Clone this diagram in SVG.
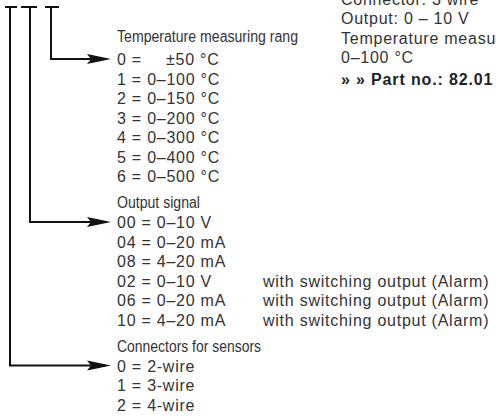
<svg xmlns="http://www.w3.org/2000/svg" width="496" height="420" viewBox="0 0 496 420">
<defs>
<style>
text{font-family:"Liberation Sans",Arial,sans-serif;font-size:16px;letter-spacing:0.75px;fill:#333}
.hd{letter-spacing:0}
.b{font-weight:bold;fill:#222;letter-spacing:0.85px}
.ln{fill:none;stroke:#111;stroke-width:2}
</style>
<marker id="ah" markerUnits="userSpaceOnUse" markerWidth="26" markerHeight="12" refX="18" refY="6" orient="auto">
<path d="M0,1 L24,6 L0,11 L4,6 Z" fill="#111"/>
</marker>
</defs>
<g id="connectors">
<path class="ln" d="M5,7 H17 M10,7 V365.5 H105" marker-end="url(#ah)"/>
<path class="ln" d="M21,7 H37 M30,7 V222 H105" marker-end="url(#ah)"/>
<path class="ln" d="M45,7 H59 M51,7 V59 H105" marker-end="url(#ah)"/>
</g>
<g id="node-temperature">
<text class="hd" x="117" y="42" textLength="181" lengthAdjust="spacingAndGlyphs">Temperature measuring rang</text>
<text x="117" y="65">0 =<tspan x="166">±50 °C</tspan></text>
<text x="117" y="84.5">1 = 0–100 °C</text>
<text x="117" y="104">2 = 0–150 °C</text>
<text x="117" y="123.5">3 = 0–200 °C</text>
<text x="117" y="143">4 = 0–300 °C</text>
<text x="117" y="162.5">5 = 0–400 °C</text>
<text x="117" y="182">6 = 0–500 °C</text>
</g>
<g id="node-output">
<text class="hd" x="117" y="208" textLength="83" lengthAdjust="spacingAndGlyphs">Output signal</text>
<text x="117" y="228">00 = 0–10 V</text>
<text x="117" y="247.5">04 = 0–20 mA</text>
<text x="117" y="267">08 = 4–20 mA</text>
<text x="117" y="286.5">02 = 0–10 V</text>
<text x="117" y="306">06 = 0–20 mA</text>
<text x="117" y="325.5">10 = 4–20 mA</text>
<text x="263" y="286.5">with switching output (Alarm)</text>
<text x="263" y="306">with switching output (Alarm)</text>
<text x="263" y="325.5">with switching output (Alarm)</text>
</g>
<g id="node-connectors">
<text class="hd" x="117" y="351.5" textLength="144" lengthAdjust="spacingAndGlyphs">Connectors for sensors</text>
<text x="117" y="371.5">0 = 2-wire</text>
<text x="117" y="391">1 = 3-wire</text>
<text x="117" y="410.5">2 = 4-wire</text>
</g>
<g id="node-info">
<text x="341" y="4.5">Connector: 3 wire</text>
<text x="341" y="24">Output: 0 – 10 V</text>
<text x="341" y="43.5">Temperature measu</text>
<text x="341" y="63">0–100 °C</text>
<text class="b" x="341" y="84.5">» » Part no.: 82.01</text>
</g>
</svg>
